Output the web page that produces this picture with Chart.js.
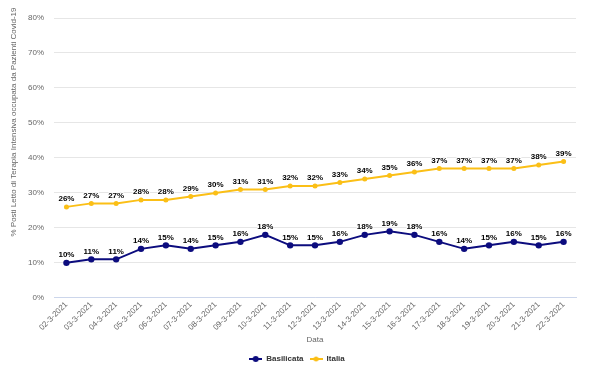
<!DOCTYPE html>
<html>
<head>
<meta charset="utf-8">
<script src="https://cdn.jsdelivr.net/npm/chart.js@4"></script>
<style>
  html, body { margin: 0; padding: 0; background: #fff; }
  #wrap { width: 600px; height: 385px; }
</style>
</head>
<body>
<div id="wrap"><canvas id="chart" width="600" height="385"></canvas></div>
<script>
// Dates on the x axis.
const dates = [
  "02-3-2021", "03-3-2021", "04-3-2021", "05-3-2021", "06-3-2021", "07-3-2021",
  "08-3-2021", "09-3-2021", "10-3-2021", "11-3-2021", "12-3-2021", "13-3-2021",
  "14-3-2021", "15-3-2021", "16-3-2021", "17-3-2021", "18-3-2021", "19-3-2021",
  "20-3-2021", "21-3-2021", "22-3-2021"
];

// Occupancy percentages.
const basilicata = [10, 11, 11, 14, 15, 14, 15, 16, 18, 15, 15, 16, 18, 19, 18, 16, 14, 15, 16, 15, 16];
const italia = [26, 27, 27, 28, 28, 29, 30, 31, 31, 32, 32, 33, 34, 35, 36, 37, 37, 37, 37, 38, 39];

const yTicks = [0, 10, 20, 30, 40, 50, 60, 70, 80];

const yTitle = "% Posti Letto di Terapia Intensiva occupata da Pazienti Covid-19";

const FONT = "'Liberation Sans', Arial, sans-serif";

/**
 * legendIcon draws a short line with a marker, like the reference legend.
 */
function legendIcon(color, radius) {
  const c = document.createElement("canvas");
  c.width = 13;
  c.height = 8;
  const ctx = c.getContext("2d");
  ctx.strokeStyle = color;
  ctx.lineWidth = 2;
  ctx.beginPath();
  ctx.moveTo(0, 4);
  ctx.lineTo(13, 4);
  ctx.stroke();
  ctx.fillStyle = color;
  ctx.beginPath();
  ctx.arc(6.5, 4, radius, 0, Math.PI * 2);
  ctx.fill();
  return c;
}

// Value labels above each point, plus the y axis title (placed like the reference).
const pointLabels = {
  id: "pointLabels",
  afterDatasetsDraw(chart) {
    const ctx = chart.ctx;
    ctx.save();
    ctx.font = "bold 8px " + FONT;
    ctx.textAlign = "center";
    ctx.textBaseline = "bottom";
    ctx.lineJoin = "round";
    chart.data.datasets.forEach((ds, i) => {
      const meta = chart.getDatasetMeta(i);
      if (meta.hidden) return;
      meta.data.forEach((pt, j) => {
        const txt = ds.data[j] + "%";
        ctx.strokeStyle = "#fff";
        ctx.lineWidth = 2;
        ctx.strokeText(txt, pt.x, pt.y - 4);
        ctx.fillStyle = "#000";
        ctx.fillText(txt, pt.x, pt.y - 4);
      });
    });
    ctx.restore();

    ctx.save();
    ctx.translate(14, 122);
    ctx.rotate(-Math.PI / 2);
    ctx.font = "8px " + FONT;
    ctx.fillStyle = "#666";
    ctx.textAlign = "center";
    ctx.textBaseline = "middle";
    ctx.fillText(yTitle, 0, 0);
    ctx.restore();
  }
};

const ctx = document.getElementById("chart").getContext("2d");
new Chart(ctx, {
  type: "line",
  data: {
    labels: dates,
    datasets: [
      {
        label: "Basilicata",
        data: basilicata,
        borderColor: "#0c0c7e",
        backgroundColor: "#0c0c7e",
        borderWidth: 2,
        pointRadius: 3.2,
        pointBorderWidth: 0,
        pointHoverRadius: 3.2,
        tension: 0
      },
      {
        label: "Italia",
        data: italia,
        borderColor: "#fbbf16",
        backgroundColor: "#fbbf16",
        borderWidth: 2,
        pointRadius: 2.5,
        pointBorderWidth: 0,
        pointHoverRadius: 2.5,
        tension: 0
      }
    ]
  },
  options: {
    responsive: false,
    animation: false,
    layout: { padding: { left: 18, right: 24, top: 18, bottom: 12 } },
    plugins: {
      tooltip: { enabled: false },
      legend: {
        position: "bottom",
        labels: {
          usePointStyle: true,
          pointStyleWidth: 13,
          boxHeight: 8,
          padding: 6,
          color: "#333",
          font: { family: FONT, size: 8, weight: "bold" },
          generateLabels(chart) {
            return chart.data.datasets.map((ds, i) => ({
              text: ds.label,
              fillStyle: ds.borderColor,
              strokeStyle: ds.borderColor,
              fontColor: "#333",
              pointStyle: legendIcon(ds.borderColor, i === 0 ? 3 : 2.5),
              hidden: !chart.isDatasetVisible(i),
              datasetIndex: i
            }));
          }
        }
      }
    },
    scales: {
      x: {
        offset: true,
        grid: { display: false, drawTicks: false },
        border: { display: true, color: "#ccd6eb", width: 1 },
        ticks: {
          color: "#666",
          font: { family: FONT, size: 8 },
          maxRotation: 45,
          minRotation: 45,
          autoSkip: false,
          padding: 2
        },
        title: {
          display: true,
          text: "Data",
          color: "#666",
          font: { family: FONT, size: 8 },
          padding: { top: 1, bottom: 4 }
        }
      },
      y: {
        min: 0,
        max: 80,
        afterBuildTicks(scale) {
          scale.ticks = yTicks.map(v => ({ value: v }));
        },
        grid: { color: "#e6e6e6", drawTicks: false, lineWidth: 1 },
        border: { display: false },
        ticks: {
          color: "#666",
          font: { family: FONT, size: 8 },
          padding: 10,
          callback: v => v + "%"
        }
      }
    }
  },
  plugins: [pointLabels]
});
</script>
</body>
</html>
